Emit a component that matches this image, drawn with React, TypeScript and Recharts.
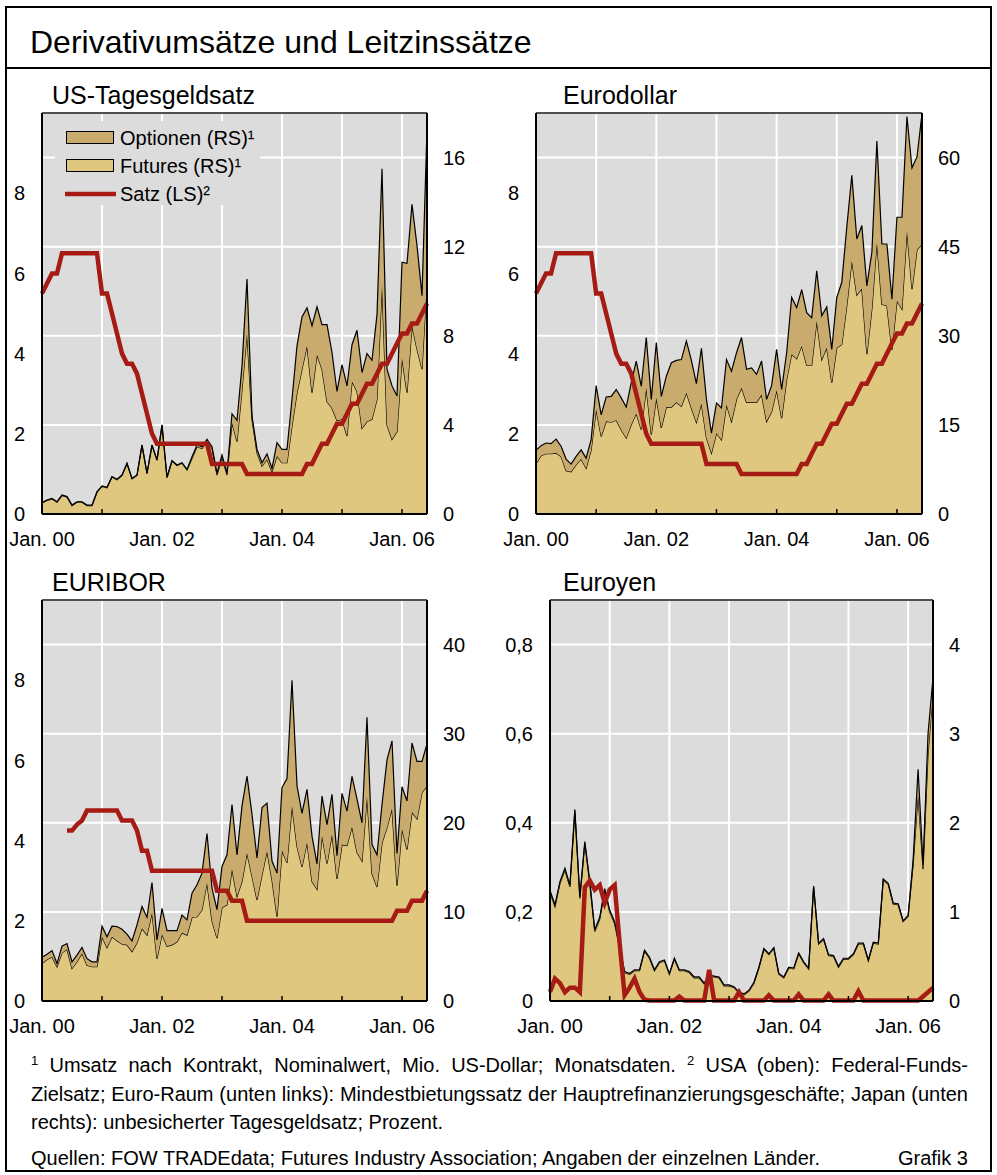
import React from 'react';
import {
  ComposedChart,
  Area,
  Line,
  XAxis,
  YAxis,
  CartesianGrid,
  ReferenceLine,
} from 'recharts';

const FONT = "'Liberation Sans', Arial, Helvetica, sans-serif";
const FUTURES_FILL = '#DFC77F';
const OPTIONS_FILL = '#C9AB6E';
const RATE_RED = '#A61B14';
const PLOT_BG = '#DCDCDC';

// x axis: month index, Jan 2000 = 0 ... Jun 2006 = 77
const yearTicks = [0, 12, 24, 36, 48, 60, 72];
const labelTicks = [0, 24, 48, 72];
const tickLabels = ['Jan. 00', 'Jan. 02', 'Jan. 04', 'Jan. 06'];

// Federal-Funds-Zielsatz, % (top panels)
const fedFunds = [
  5.5, 5.75, 6.0, 6.0, 6.5, 6.5, 6.5, 6.5, 6.5, 6.5, 6.5, 6.5,
  5.5, 5.5, 5.0, 4.5, 4.0, 3.75, 3.75, 3.5, 3.0, 2.5, 2.0, 1.75,
  1.75, 1.75, 1.75, 1.75, 1.75, 1.75, 1.75, 1.75, 1.75, 1.75, 1.25, 1.25,
  1.25, 1.25, 1.25, 1.25, 1.25, 1.0, 1.0, 1.0, 1.0, 1.0, 1.0, 1.0,
  1.0, 1.0, 1.0, 1.0, 1.0, 1.25, 1.25, 1.5, 1.75, 1.75, 2.0, 2.25,
  2.25, 2.5, 2.75, 2.75, 3.0, 3.25, 3.25, 3.5, 3.75, 3.75, 4.0, 4.25,
  4.5, 4.5, 4.75, 4.75, 5.0, 5.25,
];

// Mindestbietungssatz EZB, %
const ecbRate = [
  null, null, null, null, null, 4.25, 4.25, 4.4, 4.5, 4.75, 4.75, 4.75,
  4.75, 4.75, 4.75, 4.75, 4.5, 4.5, 4.5, 4.25, 3.75, 3.75, 3.25, 3.25,
  3.25, 3.25, 3.25, 3.25, 3.25, 3.25, 3.25, 3.25, 3.25, 3.25, 3.25, 2.75,
  2.75, 2.75, 2.5, 2.5, 2.5, 2.0, 2.0, 2.0, 2.0, 2.0, 2.0, 2.0,
  2.0, 2.0, 2.0, 2.0, 2.0, 2.0, 2.0, 2.0, 2.0, 2.0, 2.0, 2.0,
  2.0, 2.0, 2.0, 2.0, 2.0, 2.0, 2.0, 2.0, 2.0, 2.0, 2.0, 2.25,
  2.25, 2.25, 2.5, 2.5, 2.5, 2.75,
];

// Japan unbesicherter Tagesgeldsatz, %
const japanCall = [
  0.02, 0.05, 0.04, 0.02, 0.03, 0.03, 0.02, 0.255, 0.27, 0.25, 0.26, 0.22,
  0.25, 0.26, 0.13, 0.013, 0.03, 0.05, 0.02, 0.003, 0.001, 0.001, 0.001, 0.001,
  0.001, 0.001, 0.01, 0.001, 0.001, 0.001, 0.001, 0.001, 0.07, 0.001, 0.001, 0.001,
  0.001, 0.001, 0.02, 0.001, 0.001, 0.001, 0.001, 0.001, 0.013, 0.001, 0.001, 0.001,
  0.001, 0.001, 0.015, 0.001, 0.001, 0.001, 0.001, 0.001, 0.015, 0.001, 0.001, 0.001,
  0.001, 0.001, 0.022, 0.001, 0.001, 0.001, 0.001, 0.001, 0.001, 0.001, 0.001, 0.001,
  0.001, 0.001, 0.001, 0.01, 0.02, 0.03,
];

// US-Tagesgeldsatz, Mio. US-Dollar
const usFutures = [
  0.49, 0.61, 0.68, 0.53, 0.83, 0.76, 0.38, 0.53, 0.53, 0.38, 0.38, 0.98,
  1.24, 1.18, 1.66, 1.54, 1.73, 2.26, 1.58, 1.73, 3.08, 1.81, 3.08, 2.41,
  3.98, 1.63, 2.38, 2.18, 2.28, 1.98, 2.49, 3.02, 2.94, 3.27, 2.94, 1.75,
  2.57, 1.75, 4.1, 3.25, 5.6, 8.1, 4.25, 2.75, 2.15, 2.45, 1.9, 2.6,
  2.3, 2.3, 3.95, 5.45, 6.5, 7.55, 5.45, 7.15, 6.5, 5.05, 4.75, 4.2,
  4.25, 3.5, 5.95, 5.5, 3.85, 4.15, 4.25, 5.15, 10.3, 4.0, 3.35, 3.7,
  7.0, 5.45, 8.45, 7.4, 6.5, 10.5,
];
const usOptions = [
  0.02, 0.02, 0.02, 0.02, 0.02, 0.02, 0.02, 0.02, 0.02, 0.02, 0.02, 0.02,
  0.02, 0.02, 0.02, 0.02, 0.02, 0.02, 0.02, 0.02, 0.02, 0.02, 0.02, 0.02,
  0.02, 0.02, 0.02, 0.02, 0.02, 0.02, 0.08, 0.08, 0.08, 0.08, 0.08, 0.08,
  0.08, 0.08, 0.4, 0.95, 1.05, 2.45, 0.15, 0.15, 0.15, 0.25, 0.15, 0.6,
  0.6, 0.6, 1.2, 2.1, 2.35, 1.7, 3.0, 2.15, 2.0, 3.45, 2.5, 1.3,
  2.45, 2.25, 1.65, 2.75, 2.5, 3.05, 2.65, 3.8, 5.2, 2.5, 2.4, 1.6,
  4.3, 5.8, 5.45, 4.65, 3.3, 6.8,
];

// Eurodollar
const edFutures = [
  8.45, 9.8, 10.15, 10.15, 10.25, 9.7, 7.3, 7.1, 8.3, 9.25, 7.7, 10.8,
  17.6, 13.05, 15.6, 15.45, 15.8, 14.2, 12.8, 15.05, 16.9, 14.2, 21.25, 13.35,
  19.55, 14.5, 18.0, 18.0, 18.8, 18.15, 20.4, 17.85, 15.45, 18.6, 12.8, 10.25,
  13.6, 12.5, 18.4, 15.6, 19.3, 21.25, 18.8, 18.8, 18.8, 20.1, 15.6, 17.2,
  20.85, 16.15, 22.65, 26.9, 26.15, 28.3, 25.05, 25.05, 32.5, 26.0, 28.0, 22.1,
  28.0, 28.55, 35.05, 42.65, 36.85, 37.95, 26.9, 34.5, 45.75, 35.3, 35.05, 27.6,
  35.9, 34.5, 47.7, 37.85, 44.5, 45.45,
];
const edOptions = [
  2.25, 1.7, 1.8, 1.7, 2.35, 1.7, 1.95, 1.3, 1.4, 1.55, 1.7, 1.7,
  4.0, 3.65, 4.1, 4.35, 5.15, 5.35, 5.2, 7.05, 8.85, 7.3, 8.45, 5.95,
  9.3, 5.3, 5.2, 7.45, 7.05, 7.85, 8.7, 8.0, 6.5, 9.3, 6.5, 3.35,
  5.1, 5.35, 7.6, 8.45, 7.85, 8.45, 5.55, 5.8, 4.7, 5.65, 3.7, 4.4,
  6.85, 4.8, 4.5, 9.55, 8.6, 9.45, 8.85, 8.0, 8.45, 7.35, 6.85, 5.6,
  8.45, 10.45, 13.25, 14.35, 9.45, 10.6, 11.5, 9.55, 17.05, 10.15, 10.4, 8.55,
  14.05, 15.45, 19.2, 20.4, 15.6, 21.95,
];

// EURIBOR
const euriborFutures = [
  4.2, 4.65, 4.95, 3.85, 5.4, 5.8, 3.65, 4.4, 5.35, 4.0, 3.85, 3.85,
  7.2, 6.0, 7.2, 6.75, 6.4, 6.3, 5.55, 6.55, 8.15, 7.4, 9.9, 4.75,
  7.5, 6.15, 6.3, 6.65, 7.65, 7.4, 9.4, 9.45, 10.25, 13.25, 9.0, 7.05,
  10.5, 10.8, 14.8, 11.75, 13.4, 16.6, 14.0, 11.35, 14.15, 16.8, 13.6, 9.45,
  16.9, 15.5, 21.9, 17.35, 15.05, 17.8, 13.4, 12.55, 18.55, 15.4, 18.7, 13.7,
  17.55, 17.45, 19.55, 16.7, 15.7, 22.95, 14.3, 12.8, 17.75, 19.45, 21.6, 12.95,
  19.3, 17.0, 21.2, 20.45, 23.4, 24.15,
];
const euriborOptions = [
  0.7, 0.6, 0.7, 0.35, 0.75, 0.65, 0.75, 0.75, 0.65, 0.75, 0.55, 0.55,
  1.2, 1.2, 1.2, 1.6, 1.65, 1.2, 1.2, 2.0, 2.45, 2.0, 3.4, 2.1,
  2.9, 1.75, 1.6, 1.25, 2.0, 1.7, 2.7, 3.6, 4.1, 5.55, 3.65, 3.2,
  4.6, 5.6, 7.25, 4.65, 8.5, 8.65, 6.95, 4.7, 7.55, 5.4, 2.1, 4.9,
  7.05, 9.45, 14.1, 6.8, 6.0, 5.95, 5.1, 2.85, 4.45, 4.4, 4.5, 2.6,
  5.75, 3.85, 5.65, 5.95, 4.3, 8.9, 3.25, 3.6, 4.3, 7.6, 7.6, 3.6,
  4.75, 5.45, 7.75, 6.45, 3.5, 4.7,
];

// Euroyen
const eyFutures = [
  1.22, 1.06, 1.32, 1.47, 1.28, 2.13, 1.15, 1.77, 1.32, 0.78, 0.92, 1.24,
  1.0, 0.87, 0.59, 0.32, 0.3, 0.34, 0.34, 0.56, 0.48, 0.34, 0.43, 0.45,
  0.3, 0.47, 0.34, 0.34, 0.32, 0.26, 0.26, 0.19, 0.28, 0.27, 0.26, 0.17,
  0.17, 0.15, 0.09, 0.07, 0.11, 0.2, 0.37, 0.58, 0.52, 0.59, 0.3, 0.26,
  0.37, 0.36, 0.53, 0.43, 0.36, 1.28, 0.64, 0.69, 0.51, 0.5, 0.38, 0.47,
  0.47, 0.52, 0.64, 0.64, 0.45, 0.65, 0.64, 1.36, 1.31, 1.09, 1.08, 0.89,
  0.95, 1.53, 2.32, 1.48, 2.78, 3.46,
];
const eyOptions = [
  0.02, 0.02, 0.02, 0.02, 0.02, 0.02, 0.02, 0.02, 0.02, 0.02, 0.02, 0.02,
  0.02, 0.02, 0.02, 0.01, 0.01, 0.01, 0.01, 0.01, 0.01, 0.01, 0.01, 0.01,
  0.01, 0.01, 0.01, 0.01, 0.01, 0.01, 0.01, 0.01, 0.01, 0.01, 0.01, 0.01,
  0.01, 0.01, 0.01, 0.01, 0.01, 0.01, 0.01, 0.01, 0.01, 0.01, 0.01, 0.01,
  0.01, 0.01, 0.01, 0.01, 0.01, 0.01, 0.01, 0.01, 0.01, 0.01, 0.01, 0.01,
  0.01, 0.01, 0.01, 0.01, 0.01, 0.01, 0.01, 0.01, 0.01, 0.01, 0.01, 0.01,
  0.01, 0.05, 0.28, 0.05, 0.22, 0.17,
];

const buildRows = (futures: number[], options: number[], rate: (number | null)[]) =>
  futures.map((f, i) => ({ m: i, futures: f, options: options[i], rate: rate[i] }));

const PLOT_H = 401;
const TOP_M = 13;
const RIGHT_W = 60;
const X_H = 40;

const tickStyle = { fontSize: 20, fill: '#000', fontFamily: FONT };

const YearTick = (props: any) => {
  const { x, y, payload } = props;
  const idx = labelTicks.indexOf(payload.value);
  return (
    <g>
      <line x1={x} x2={x} y1={y} y2={y - 5} stroke="#000" strokeWidth={1.5} />
      {idx >= 0 && (
        <text x={x} y={y + 32} textAnchor="middle" fontSize={20} fontFamily={FONT} fill="#000">
          {tickLabels[idx]}
        </text>
      )}
    </g>
  );
};

interface PanelProps {
  left: number;
  top: number;
  leftW: number;
  plotW: number;
  rows: any[];
  leftDomain: [number, number];
  leftTicks: number[];
  leftFmt?: (v: number) => string;
  rightDomain: [number, number];
  rightTicks: number[];
}

const Panel: React.FC<PanelProps> = ({
  left,
  top,
  leftW,
  plotW,
  rows,
  leftDomain,
  leftTicks,
  leftFmt,
  rightDomain,
  rightTicks,
}) => (
  <div style={{ position: 'absolute', left, top }}>
    <ComposedChart
      width={leftW + plotW + RIGHT_W}
      height={TOP_M + PLOT_H + X_H}
      data={rows}
      margin={{ top: TOP_M, right: 0, bottom: 0, left: 0 }}
    >
      <CartesianGrid yAxisId="right" fill={PLOT_BG} fillOpacity={1} stroke="#fff" strokeWidth={2} />
      <XAxis
        type="number"
        dataKey="m"
        domain={[0, 77]}
        ticks={yearTicks}
        interval={0}
        height={X_H}
        tickSize={0}
        tickMargin={0}
        tickLine={false}
        axisLine={{ stroke: '#000', strokeWidth: 2 }}
        tick={(p: any) => <YearTick {...p} />}
      />
      <YAxis
        yAxisId="left"
        orientation="left"
        width={leftW}
        domain={leftDomain}
        ticks={leftTicks}
        interval={0}
        tickFormatter={leftFmt}
        tickSize={0}
        tickMargin={17}
        tickLine={false}
        axisLine={{ stroke: '#000', strokeWidth: 2 }}
        tick={tickStyle}
      />
      <YAxis
        yAxisId="right"
        orientation="right"
        width={RIGHT_W}
        domain={rightDomain}
        ticks={rightTicks}
        interval={0}
        allowDataOverflow
        tickSize={0}
        tickMargin={16}
        tickLine={false}
        axisLine={{ stroke: '#000', strokeWidth: 2 }}
        tick={tickStyle}
      />
      <Area
        yAxisId="right"
        type="linear"
        dataKey="futures"
        stackId="t"
        fill={FUTURES_FILL}
        fillOpacity={1}
        stroke="#000"
        strokeWidth={1.2}
        isAnimationActive={false}
      />
      <Area
        yAxisId="right"
        type="linear"
        dataKey="options"
        stackId="t"
        fill={OPTIONS_FILL}
        fillOpacity={1}
        stroke="#000"
        strokeWidth={1.2}
        isAnimationActive={false}
      />
      <ReferenceLine yAxisId="right" y={rightDomain[1]} stroke="#505050" strokeWidth={2} />
      <Line
        yAxisId="left"
        type="linear"
        dataKey="rate"
        stroke={RATE_RED}
        strokeWidth={4.5}
        dot={false}
        activeDot={false}
        isAnimationActive={false}
      />
    </ComposedChart>
  </div>
);

const panelTitle = (text: string, left: number, top: number) => (
  <div style={{ position: 'absolute', left, top, fontSize: 25, lineHeight: '30px', whiteSpace: 'nowrap' }}>{text}</div>
);

const Legend = () => (
  <svg style={{ position: 'absolute', left: 0, top: 0 }} width={300} height={220}>
    <rect x={55} y={121} width={205} height={84} fill={PLOT_BG} />
    <rect x={66.5} y={131.5} width={47} height={12} fill={OPTIONS_FILL} stroke="#000" strokeWidth={1} />
    <rect x={66.5} y={159.5} width={47} height={12} fill={FUTURES_FILL} stroke="#000" strokeWidth={1} />
    <line x1={65} x2={116} y1={194} y2={194} stroke={RATE_RED} strokeWidth={4.5} />
    <g fontFamily={FONT} fontSize={20} fill="#000">
      <text x={120} y={145}>Optionen (RS)¹</text>
      <text x={120} y={173}>Futures (RS)¹</text>
      <text x={120} y={201}>Satz (LS)²</text>
    </g>
  </svg>
);

const supStyle: React.CSSProperties = { fontSize: 13, position: 'relative', top: -7 };
const lineStyle: React.CSSProperties = {
  position: 'absolute',
  left: 31,
  width: 937,
  fontSize: 20,
  lineHeight: '28px',
  whiteSpace: 'nowrap',
};

const euroyenFmt = (v: number) => (v === 0 ? '0' : v.toFixed(1).replace('.', ','));

export default function App() {
  return (
    <div
      style={{
        position: 'absolute',
        left: 0,
        top: 0,
        width: 997,
        height: 1175,
        background: '#fff',
        fontFamily: FONT,
        color: '#000',
        overflow: 'hidden',
      }}
    >
      <div
        style={{
          position: 'absolute',
          left: 5,
          top: 6,
          width: 987,
          height: 1166,
          border: '2px solid #000',
          boxSizing: 'border-box',
        }}
      />
      <div style={{ position: 'absolute', left: 5, top: 67, width: 987, height: 2, background: '#000' }} />
      <div style={{ position: 'absolute', left: 30, top: 22, fontSize: 32, lineHeight: '40px', whiteSpace: 'nowrap' }}>
        Derivativumsätze und Leitzinssätze
      </div>

      {panelTitle('US-Tagesgeldsatz', 52, 80)}
      {panelTitle('Eurodollar', 563, 80)}
      {panelTitle('EURIBOR', 52, 567)}
      {panelTitle('Euroyen', 563, 567)}

      <Panel
        left={0}
        top={100}
        leftW={42}
        plotW={385}
        rows={buildRows(usFutures, usOptions, fedFunds)}
        leftDomain={[0, 10]}
        leftTicks={[0, 2, 4, 6, 8]}
        rightDomain={[0, 18]}
        rightTicks={[0, 4, 8, 12, 16]}
      />
      <Legend />
      <Panel
        left={494}
        top={100}
        leftW={42}
        plotW={386}
        rows={buildRows(edFutures, edOptions, fedFunds)}
        leftDomain={[0, 10]}
        leftTicks={[0, 2, 4, 6, 8]}
        rightDomain={[0, 67.5]}
        rightTicks={[0, 15, 30, 45, 60]}
      />
      <Panel
        left={0}
        top={587}
        leftW={42}
        plotW={385}
        rows={buildRows(euriborFutures, euriborOptions, ecbRate)}
        leftDomain={[0, 10]}
        leftTicks={[0, 2, 4, 6, 8]}
        rightDomain={[0, 45]}
        rightTicks={[0, 10, 20, 30, 40]}
      />
      <Panel
        left={490}
        top={587}
        leftW={60}
        plotW={383}
        rows={buildRows(eyFutures, eyOptions, japanCall)}
        leftDomain={[0, 0.9]}
        leftTicks={[0, 0.2, 0.4, 0.6, 0.8]}
        leftFmt={euroyenFmt}
        rightDomain={[0, 4.5]}
        rightTicks={[0, 1, 2, 3, 4]}
      />

      <div style={{ ...lineStyle, top: 1051, textAlign: 'justify', textAlignLast: 'justify' }}>
        <span style={supStyle}>1</span> Umsatz nach Kontrakt, Nominalwert, Mio. US-Dollar; Monatsdaten.{' '}
        <span style={supStyle}>2</span> USA (oben): Federal-Funds-
      </div>
      <div style={{ ...lineStyle, top: 1080, textAlign: 'justify', textAlignLast: 'justify' }}>
        Zielsatz; Euro-Raum (unten links): Mindestbietungssatz der Hauptrefinanzierungsgeschäfte; Japan (unten
      </div>
      <div style={{ ...lineStyle, top: 1108 }}>rechts): unbesicherter Tagesgeldsatz; Prozent.</div>
      <div style={{ ...lineStyle, top: 1144 }}>
        Quellen: FOW TRADEdata; Futures Industry Association; Angaben der einzelnen Länder.
      </div>
      <div style={{ ...lineStyle, top: 1144, textAlign: 'right' }}>Grafik 3</div>
    </div>
  );
}
